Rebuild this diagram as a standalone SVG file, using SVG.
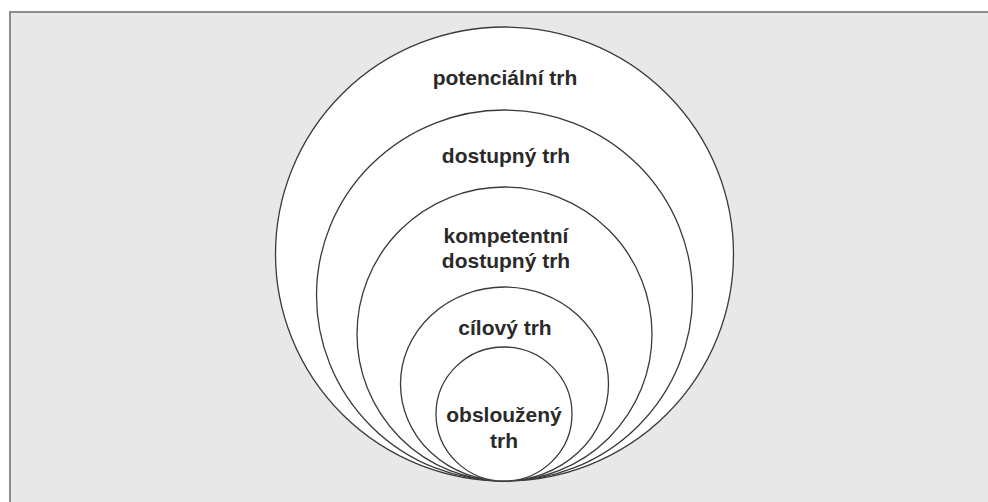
<svg xmlns="http://www.w3.org/2000/svg" width="988" height="502" viewBox="0 0 988 502">
<style>
.ring{fill:#fff;stroke:#3a3a3a;stroke-width:1.3}
.lbl{font-family:"Liberation Sans",Arial,sans-serif;font-weight:bold;font-size:21px;fill:#2a2a2a;text-anchor:middle}
</style>
<rect x="0" y="0" width="988" height="502" fill="#fff"/>
<rect id="frame" x="10" y="12" width="990" height="500" fill="#e8e8e8" stroke="#8c8c8c" stroke-width="2"/>
<g id="potencialni">
<ellipse class="ring" cx="504.5" cy="254" rx="229" ry="227"/>
<text class="lbl" x="505" y="85">potenciální trh</text>
</g>
<g id="dostupny">
<ellipse class="ring" cx="504.5" cy="295.5" rx="188" ry="185.5"/>
<text class="lbl" x="506" y="163">dostupný trh</text>
</g>
<g id="kompetentni">
<ellipse class="ring" cx="504.5" cy="334" rx="147.5" ry="147"/>
<text class="lbl" x="506" y="243">kompetentní</text>
<text class="lbl" x="506" y="268">dostupný trh</text>
</g>
<g id="cilovy">
<ellipse class="ring" cx="504.5" cy="384" rx="104" ry="97"/>
<text class="lbl" x="505" y="335">cílový trh</text>
</g>
<g id="obslouzeny">
<ellipse class="ring" cx="504" cy="414" rx="68" ry="67"/>
<text class="lbl" x="504" y="422">obsloužený</text>
<text class="lbl" x="504" y="448">trh</text>
</g>
<g id="connectors"></g>
</svg>
